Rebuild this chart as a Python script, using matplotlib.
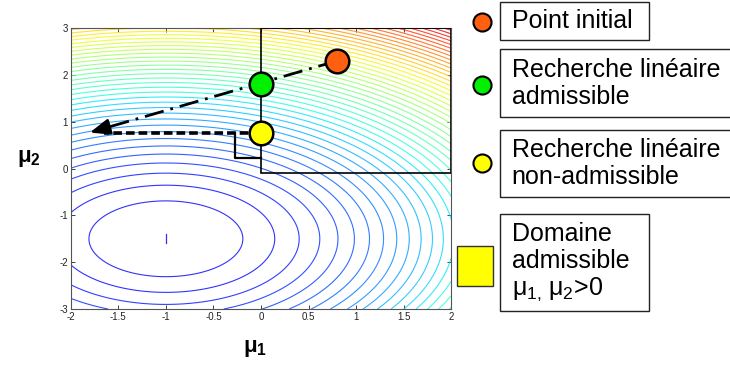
import numpy as np
import matplotlib
matplotlib.use("Agg")
import matplotlib.pyplot as plt
from matplotlib.patches import Rectangle
from matplotlib.colors import Normalize

plt.rcParams["font.family"] = ["Liberation Sans", "DejaVu Sans"]
plt.rcParams["mathtext.fontset"] = "custom"
plt.rcParams["mathtext.rm"] = "Liberation Sans"
plt.rcParams["mathtext.it"] = "Liberation Sans"
plt.rcParams["mathtext.bf"] = "Liberation Sans:bold"
plt.rcParams["axes.unicode_minus"] = False

# quadratic cost, minimum at the centre
centre = (-1.0, -1.5)
level_step = 0.655
n_levels = 45

# admissible domain mu1, mu2 > 0 (drawn box)
domain_x = [0.0, 2.0]
domain_y = [-0.1, 3.0]

# iterates
p_init = (0.8, 2.3)
p_adm = (0.0, 1.8)
p_nonadm = (0.0, 0.75)
arrow_tip = (-1.8, 0.77)
dashed_x = [0.0, -1.65]
dashed_y = [0.75, 0.75]
step_x = [-0.27, -0.27, 0.0]
step_y = [0.75, 0.22, 0.22]

legend_labels = ["Point initial",
                 "Recherche linéaire\nadmissible",
                 "Recherche linéaire\nnon-admissible",
                 "Domaine\nadmissible\n$\\mathregular{μ_{1,}\\,μ_2}$>0"]
c_orange = "#ff6010"
c_green = "#00f000"
c_yellow = "#ffff00"


def main():
    fig = plt.figure(figsize=(7.3, 3.65), dpi=100)
    ax = fig.add_axes([0.097, 0.1534, 0.521, 0.7696])

    x = np.linspace(-2, 2, 500)
    y = np.linspace(-3, 3, 700)
    X, Y = np.meshgrid(x, y)
    Z = (X - centre[0])**2 + (Y - centre[1])**2
    levels = level_step * np.arange(1, n_levels)
    norm = Normalize(-2.8, 31.0)
    ax.contour(X, Y, Z, levels=levels, cmap="jet", norm=norm,
               linewidths=0.8, alpha=0.8)
    ax.plot([centre[0], centre[0]], [centre[1] - 0.1, centre[1] + 0.1],
            color=plt.cm.jet(norm(0.3)), lw=0.9, alpha=0.8)

    ax.add_patch(Rectangle((domain_x[0], domain_y[0]), domain_x[1] - domain_x[0],
                           domain_y[1] - domain_y[0], fill=False,
                           ec="black", lw=1.2, zorder=3))
    ax.plot(step_x, step_y, color="black", lw=1.6, zorder=4)
    ax.plot(dashed_x, dashed_y, color="black", lw=2.6,
            linestyle=(0, (2.4, 1.1)), zorder=4)

    # dash-dot search direction with arrow head
    d = np.array(arrow_tip) - np.array(p_init)
    back = np.array(arrow_tip) - 0.08 * d
    ax.plot([p_init[0], back[0]], [p_init[1], back[1]], color="black", lw=2,
            linestyle=(0, (7, 2.5, 1, 2.5)), zorder=4)
    ax.annotate("", xy=arrow_tip, xytext=back,
                arrowprops=dict(arrowstyle="-|>,head_length=1.0,head_width=0.4",
                                color="black", lw=2, mutation_scale=12,
                                shrinkA=0, shrinkB=0), zorder=5)

    for p, c in [(p_init, c_orange), (p_adm, c_green), (p_nonadm, c_yellow)]:
        ax.plot(p[0], p[1], "o", ms=17, mfc=c, mec="black", mew=1.8, zorder=6)

    ax.set_xlim(-2, 2)
    ax.set_ylim(-3, 3)
    ax.set_xticks(np.arange(-2, 2.01, 0.5))
    ax.set_xticklabels(["-2", "-1.5", "-1", "-0.5", "0", "0.5", "1", "1.5", "2"])
    ax.set_yticks(np.arange(-3, 3.01, 1))
    ax.tick_params(direction="in", top=True, right=True, labelsize=7,
                   length=3, width=0.6, pad=2, colors="#222222")
    for s in ax.spines.values():
        s.set_color("#555555")
        s.set_linewidth(0.8)

    fig.text(0.349, 0.045, "$\\mathregular{μ_1}$", fontsize=16,
             fontweight="bold", ha="center", va="center")
    fig.text(0.040, 0.565, "$\\mathregular{μ_2}$", fontsize=16,
             fontweight="bold", ha="center", va="center")

    # legend drawn as separate boxes
    boxes = [(0.890, 0.104, 0.204), (0.679, 0.186, 0.33),
             (0.460, 0.184, 0.33), (0.148, 0.266, 0.204)]
    for (b, h, w), lab in zip(boxes, legend_labels):
        fig.patches.append(Rectangle((0.685, b), w, h, fill=False, ec="#222222",
                                     lw=1.0, transform=fig.transFigure))
        fig.text(0.701, b + h / 2, lab, fontsize=18, ha="left", va="center",
                 linespacing=1.15)

    mk = [(0.940, c_orange), (0.767, c_green), (0.553, c_yellow)]
    for yy, c in mk:
        fig.add_artist(plt.Line2D([0.660], [yy], marker="o", ms=13, mfc=c,
                                  mec="black", mew=1.5, transform=fig.transFigure))
    fig.patches.append(Rectangle((0.626, 0.216), 0.049, 0.110, fc=c_yellow,
                                 ec="#333333", lw=1.0, transform=fig.transFigure))

    fig.savefig("out.png", dpi=100)


if __name__ == "__main__":
    main()
